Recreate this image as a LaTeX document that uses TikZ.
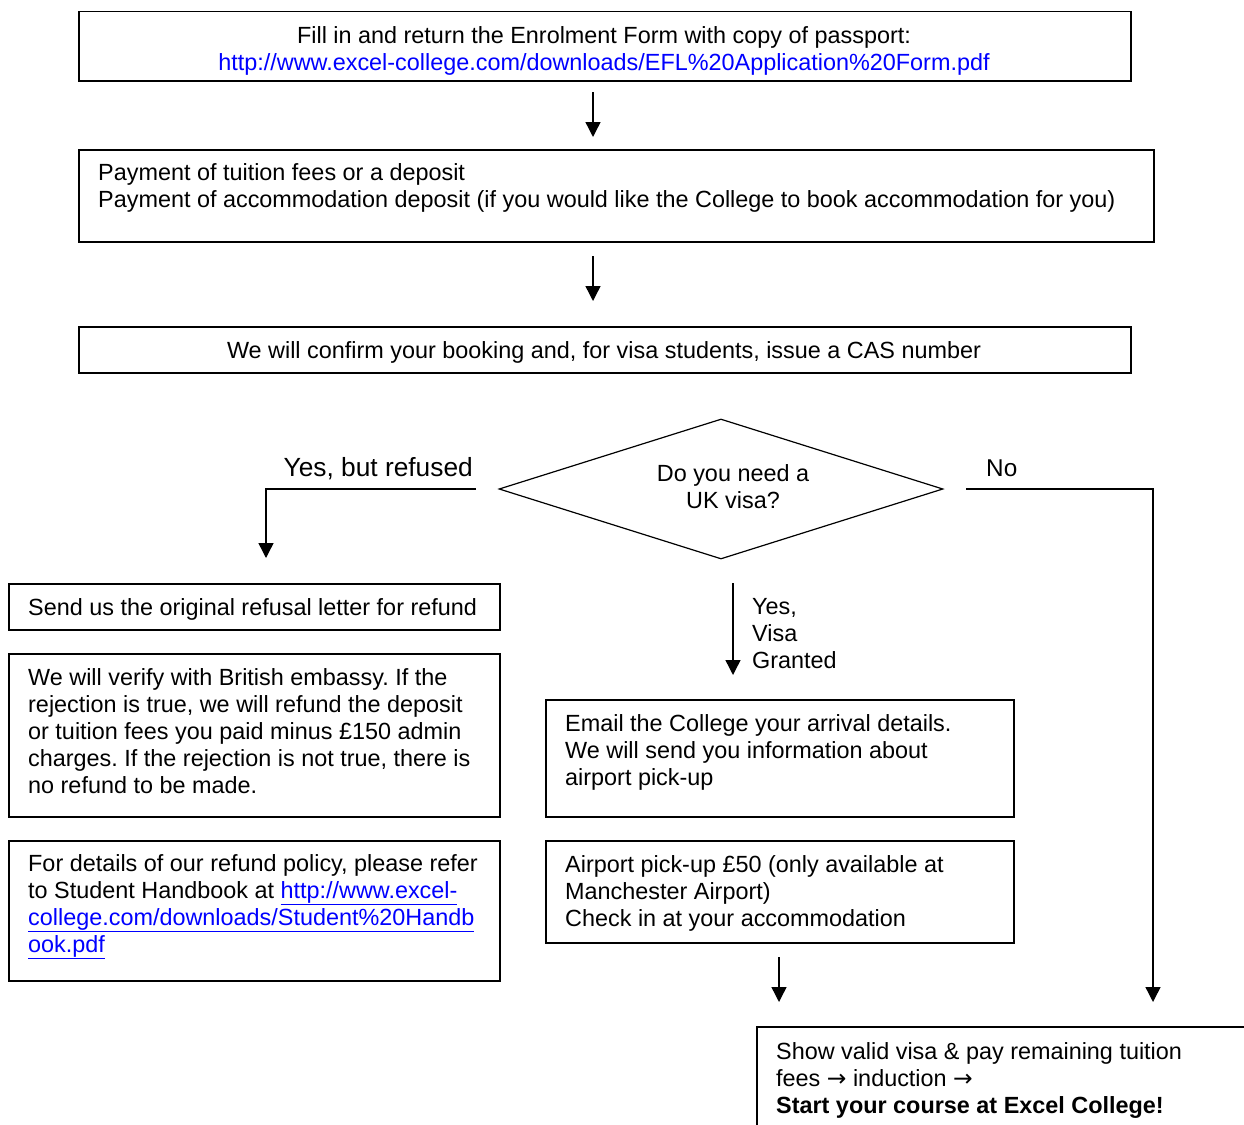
\documentclass[tikz,border=0pt]{standalone}
\usepackage{fontspec}
\setmainfont{Liberation Sans}
\newfontfamily\djv{DejaVu Sans}
\usetikzlibrary{arrows.meta,shapes.geometric}
\definecolor{linkblue}{RGB}{0,0,255}
\tikzset{
  box/.style={draw=black,line width=1.5pt,rectangle,inner sep=0pt,anchor=north west},
  txt/.style={inner sep=0pt,font=\fontsize{23.4pt}{27pt}\selectfont\frenchspacing,text=black},
  arr/.style={line width=1.4pt,-{Triangle[width=15pt,length=15pt]}},
}
\newcommand{\st}{\rule{0pt}{20pt}}
\newcommand{\rarr}{{\djv →}}
\begin{document}
\begin{tikzpicture}[x=1pt,y=-1pt]
\useasboundingbox (0,0) rectangle (1244,1124);
\fill[white] (0,0) rectangle (1244,1124);
% Boxes
\node[box,minimum width=1052pt,minimum height=69pt] (b1) at (78,11) {};
\node[box,minimum width=1075pt,minimum height=92pt] (b2) at (78,149) {};
\node[box,minimum width=1052pt,minimum height=46pt] (b3) at (78,326) {};
\node[box,minimum width=491pt,minimum height=46pt] (r1) at (8,583) {};
\node[box,minimum width=491pt,minimum height=163pt] (r2) at (8,653) {};
\node[box,minimum width=491pt,minimum height=140pt] (r3) at (8,840) {};
\node[box,minimum width=468pt,minimum height=117pt] (g1) at (545,699) {};
\node[box,minimum width=468pt,minimum height=102pt] (g2) at (545,840) {};
\begin{scope}
\clip (0,0) rectangle (1244,1124);
\node[box,minimum width=520pt,minimum height=120pt] (fin) at (756,1026) {};
\end{scope}
% Diamond
\node[draw=black,line width=1.2pt,diamond,aspect=3.17,minimum width=444pt,minimum height=140pt,inner sep=0pt] (q) at (721,489) {};
% Texts
\node[txt,align=center,anchor=north] (t1) at (604,23) {\st Fill in and return the Enrolment Form with copy of passport:\\ \textcolor{linkblue}{http://www.excel-college.com/downloads/EFL\%20Application\%20Form.pdf}};
\node[txt,align=left,anchor=north west] (t2) at (98,160) {\st Payment of tuition fees or a deposit\\ Payment of accommodation deposit (if you would like the College to book accommodation for you)};
\node[txt,anchor=base] (t3) at (604,358) {We will confirm your booking and, for visa students, issue a CAS number};
\node[txt,align=center,anchor=north] (tq) at (733,461) {\st Do you need a\\ UK visa?};
\node[txt,anchor=base east,font=\fontsize{26.3pt}{30pt}\selectfont] (tyr) at (473,476) {Yes, but refused};
\node[txt,anchor=base west,font=\fontsize{24.3pt}{28pt}\selectfont] (tno) at (986,476) {No};
\node[txt,align=left,anchor=north west] (tyg) at (752,594) {\st Yes,\\ Visa\\ Granted};
\node[txt,anchor=base west] (tr1) at (28,615) {Send us the original refusal letter for refund};
\node[txt,align=left,anchor=north west] (tr2) at (28,665) {\st We will verify with British embassy. If the\\ rejection is true, we will refund the deposit\\ or tuition fees you paid minus £150 admin\\ charges. If the rejection is not true, there is\\ no refund to be made.};
\node[txt,align=left,anchor=north west] (tr3) at (28,851) {\st For details of our refund policy, please refer\\ to Student Handbook at \textcolor{linkblue}{\underline{http://www.excel-}}\\ \textcolor{linkblue}{\underline{college.com/downloads/Student\%20Handb}}\\ \textcolor{linkblue}{\underline{ook.pdf}}};
\node[txt,align=left,anchor=north west] (tg1) at (565,711) {\st Email the College your arrival details.\\ We will send you information about\\ airport pick-up};
\node[txt,align=left,anchor=north west] (tg2) at (565,852) {\st Airport pick-up £50 (only available at\\ Manchester Airport)\\ Check in at your accommodation};
\node[txt,align=left,anchor=north west] (tfin) at (776,1039) {\st Show valid visa \& pay remaining tuition\\ fees \rarr{} induction \rarr\\ \textbf{Start your course at Excel College!}};
% Connector coordinates
\coordinate (a1s) at (593,92);  \coordinate (a1e) at (593,137);
\coordinate (a2s) at (593,256); \coordinate (a2e) at (593,301);
\coordinate (ls) at (476,489); \coordinate (lc) at (266,489); \coordinate (le) at (266,558);
\coordinate (ns) at (966,489); \coordinate (nc) at (1153,489); \coordinate (ne) at (1153,1002);
\coordinate (ys) at (733,583); \coordinate (ye) at (733,675);
\coordinate (ps) at (779,957); \coordinate (pe) at (779,1002);
% Connectors
\draw[arr] (a1s) -- (a1e);
\draw[arr] (a2s) -- (a2e);
\draw[arr] (ls) -- (lc) -- (le);
\draw[arr] (ns) -- (nc) -- (ne);
\draw[arr] (ys) -- (ye);
\draw[arr] (ps) -- (pe);
\end{tikzpicture}
\end{document}
